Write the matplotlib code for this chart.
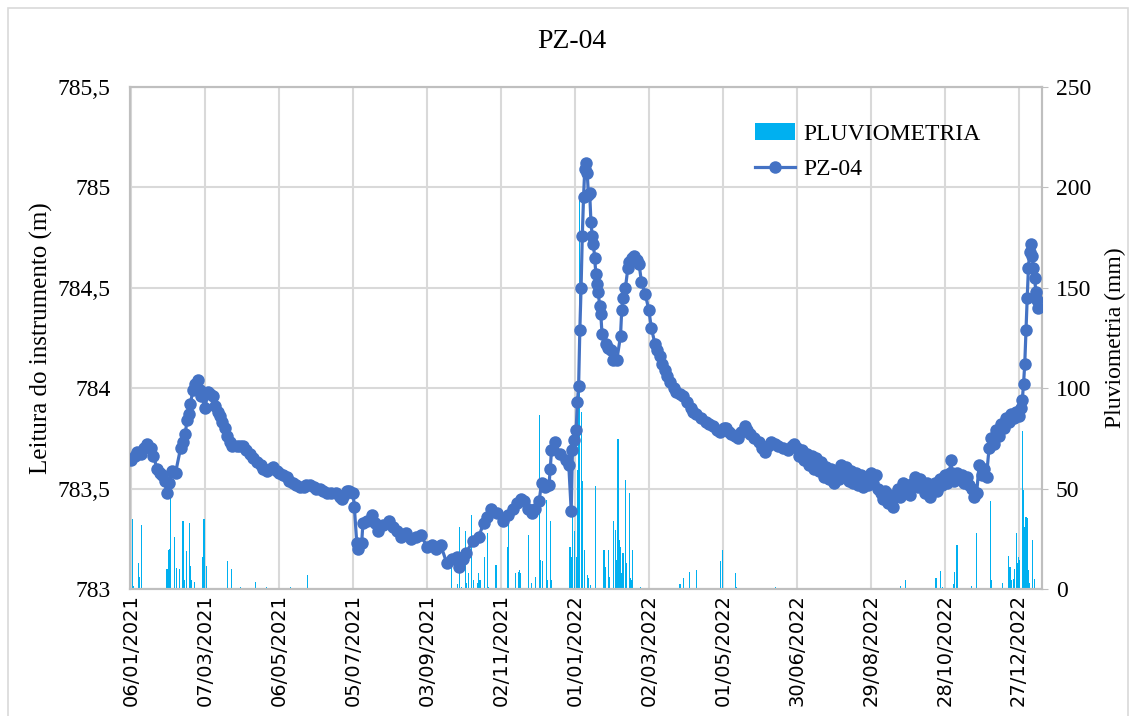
import numpy as np
import pandas as pd
import matplotlib
matplotlib.use("Agg")
import matplotlib.pyplot as plt
import matplotlib.dates as mdates
from matplotlib.patches import Rectangle

# day offsets counted from the first reading (06/01/2021)
start = pd.Timestamp("2021-01-06")

level_days = [0, 3, 5, 8, 10, 13, 16, 18, 21, 23, 25, 27, 29, 31, 33, 36, 40, 42, 44, 45, 47,
              48, 50, 52, 54, 56, 57, 60, 62, 64, 66, 68,
              70, 72, 74, 76, 78, 80, 82, 86, 88, 91, 93, 96, 99, 102, 105, 107, 110, 113, 115,
              118, 120, 123, 126, 128, 131, 134, 137, 140, 142, 145, 148, 150, 153, 156, 159,
              162, 166, 169, 171, 173, 175, 177, 180, 181, 183, 184, 187, 188, 191, 195, 198,
              200, 204, 209, 212, 216, 219, 223, 227, 231, 235, 240, 244, 247, 251,
              256, 260, 264, 266, 269, 272, 277, 282, 286, 289, 292, 297, 302, 306, 310, 313,
              316, 319, 322, 325, 328, 331, 333, 336,
              339, 340, 341, 344, 348, 353, 355, 357, 358, 359, 361, 362, 363, 364, 365, 366,
              367, 368, 369, 370, 371, 372, 373, 374, 375, 376, 377, 378, 379, 380, 381, 382,
              385, 387, 389, 391, 394, 397, 398, 399, 401, 403, 404, 406, 408, 410, 412, 414,
              417, 420, 422, 425, 427, 429, 431, 433, 435, 437, 440, 442, 445, 448, 451, 454,
              456, 458, 462, 466, 469, 472, 475, 478, 481, 483, 485, 487, 490, 492, 495, 498,
              500, 502, 505, 509, 512, 514, 517, 519, 522, 525, 529, 533, 536, 538,
              540, 542, 544, 546, 548, 550, 552, 554, 556, 558, 560, 562, 564, 566, 568, 570,
              572, 574, 576, 578, 580, 582, 584, 586, 588, 590, 592, 594, 596, 598, 600, 602,
              604, 606, 608, 610, 612, 614, 616, 618, 620, 622, 624, 626, 628, 630, 632, 634,
              636, 638, 640, 642, 644, 646, 648, 650, 652, 654, 656, 658, 660, 662, 664, 665,
              666, 668, 670, 672, 674, 676, 678, 680, 682, 684, 686, 688, 690, 692, 694, 696,
              698, 700, 702, 704, 706, 708, 710, 712, 714, 716, 718, 720, 722, 723, 724, 725,
              726, 727, 728, 729, 730, 731, 732, 733, 734, 735, 736]
level_m = [783.64, 783.66, 783.68, 783.67, 783.70, 783.72, 783.70, 783.66, 783.60, 783.58,
           783.57, 783.54, 783.48, 783.53, 783.59, 783.58, 783.70, 783.73, 783.77, 783.84,
           783.87, 783.92, 783.99, 784.02, 784.04, 783.99, 783.96, 783.90, 783.98, 783.97,
           783.96, 783.91,
           783.88, 783.86, 783.83, 783.80, 783.76, 783.73, 783.71, 783.71, 783.71, 783.71,
           783.69, 783.67, 783.65, 783.63, 783.62, 783.60, 783.59, 783.60, 783.61, 783.59,
           783.58, 783.57, 783.56, 783.54, 783.53, 783.52, 783.51, 783.51, 783.52, 783.52,
           783.51, 783.50, 783.50, 783.49, 783.48, 783.48, 783.48, 783.46, 783.45, 783.47,
           783.49, 783.49, 783.48, 783.41, 783.23, 783.20, 783.23, 783.33, 783.34, 783.37,
           783.33, 783.29, 783.32, 783.34, 783.31, 783.29, 783.26, 783.28, 783.25, 783.26,
           783.27, 783.21, 783.22, 783.20, 783.22,
           783.13, 783.15, 783.16, 783.11, 783.15, 783.18, 783.24, 783.26, 783.33, 783.36,
           783.40, 783.38, 783.34, 783.37, 783.40, 783.43, 783.45, 783.44, 783.40, 783.38,
           783.40, 783.44, 783.53, 783.51,
           783.52, 783.60, 783.69, 783.73, 783.67, 783.64, 783.62, 783.39, 783.69, 783.74,
           783.79, 783.93, 784.01, 784.29, 784.50, 784.76, 784.95, 785.09, 785.12, 785.07,
           784.96, 784.97, 784.83, 784.76, 784.72, 784.65, 784.57, 784.52, 784.48, 784.41,
           784.37, 784.27, 784.22, 784.20, 784.19, 784.14, 784.14, 784.26, 784.39, 784.45,
           784.50, 784.60, 784.63, 784.65, 784.66, 784.64, 784.62, 784.53, 784.47, 784.39,
           784.30, 784.22, 784.19, 784.16, 784.12, 784.09, 784.06, 784.03, 784.00, 783.98,
           783.97, 783.96, 783.93, 783.90, 783.88, 783.87, 783.85, 783.83, 783.82, 783.81,
           783.79, 783.78, 783.80, 783.80, 783.78, 783.77, 783.76, 783.75, 783.78, 783.81,
           783.79, 783.77, 783.75, 783.73, 783.70, 783.68, 783.71, 783.73, 783.72, 783.71,
           783.70, 783.69, 783.71, 783.72,
           783.70, 783.66, 783.69, 783.64, 783.67, 783.62, 783.66, 783.60, 783.65, 783.59,
           783.63, 783.56, 783.61, 783.55, 783.60, 783.53, 783.58, 783.55, 783.62, 783.57,
           783.61, 783.54, 783.59, 783.53, 783.58, 783.52, 783.57, 783.51, 783.56, 783.52,
           783.58, 783.53, 783.57, 783.50, 783.48, 783.45, 783.49, 783.43, 783.47, 783.41,
           783.46, 783.50, 783.46, 783.53, 783.49, 783.52, 783.47, 783.53, 783.56, 783.51,
           783.55, 783.52, 783.48, 783.53, 783.46, 783.50, 783.53, 783.49, 783.55, 783.52,
           783.57, 783.53, 783.58, 783.64, 783.58, 783.54, 783.58, 783.55, 783.57, 783.53,
           783.56, 783.52, 783.50, 783.46, 783.48, 783.62, 783.57, 783.60, 783.56, 783.70,
           783.75, 783.72, 783.79, 783.76, 783.82, 783.80, 783.85, 783.83, 783.87, 783.85,
           783.88, 783.86, 783.90, 783.94, 784.02, 784.12, 784.29, 784.45, 784.60, 784.68,
           784.72, 784.66, 784.60, 784.55, 784.48, 784.44, 784.40]

rain_days = [1, 2, 6, 7, 8, 29, 30, 31, 32, 35, 37, 39, 42, 43, 45, 47, 48, 49, 51, 58, 59, 61,
             78, 81, 89, 101, 110, 129, 135, 143,
             260, 265, 266, 268, 271, 272, 274, 276, 278, 281, 282, 283, 287, 289, 290, 296,
             305, 306, 312, 314, 315, 316, 322, 325, 328, 331, 332, 334, 337, 338, 340, 341,
             356, 357, 358, 360, 361, 362, 363, 364, 365, 366, 368, 370, 371, 373, 377,
             383, 384, 385, 387, 388, 391, 393, 394, 395, 396, 397, 398, 399, 401, 402, 404,
             405, 406, 407, 413, 433, 445, 446, 448, 453, 459, 478, 480, 490, 491, 523,
             624, 628, 653, 657, 658, 667, 668, 670, 682, 686, 697, 698, 707, 712, 713, 714,
             716, 717, 718, 719, 720, 721, 723, 724, 725, 726, 727, 728, 729, 731, 733]
rain_mm = [34.8, 1.5, 12.8, 6.0, 32.0, 10.0, 19.5, 20.0, 48.0, 26.0, 10.7, 9.8, 34.0, 4.5, 18.7,
           33.0, 11.5, 4.5, 3.3, 16.0, 35.0, 11.5, 14.0, 9.8, 1.2, 3.3, 1.2, 0.8, 0.7, 7.0,
           11.0, 2.3, 31.0, 1.0, 29.0, 3.0, 8.0, 37.0, 4.5, 3.0, 8.0, 4.5, 16.0, 28.0, 1.0, 12.0,
           21.0, 34.5, 8.0, 8.7, 9.5, 8.0, 27.0, 3.0, 6.0, 86.7, 14.5, 13.7, 44.5, 4.5, 33.7, 4.5,
           21.0, 16.0, 38.0, 28.7, 16.0, 59.5, 104.0, 196.0, 88.0, 53.7, 19.5, 7.0, 5.3, 2.0,
           51.5,
           19.5, 19.5, 11.0, 19.5, 6.0, 33.7, 29.5, 14.5, 74.5, 24.5, 21.0, 8.0, 18.0, 54.5,
           13.0, 48.0, 5.3, 4.5, 19.5, 1.0, 0.7, 2.5, 2.5, 5.3, 8.3, 9.5, 13.7, 19.5, 8.2, 0.8,
           1.2,
           1.5, 4.5, 5.7, 9.0, 1.0, 2.3, 8.7, 21.7, 1.5, 27.8, 43.7, 4.5, 2.8, 16.5, 11.0,
           4.5, 5.0, 10.0, 27.8, 13.0, 16.0, 14.5, 78.7, 49.5, 31.0, 36.0, 35.3, 9.5, 3.0, 24.5,
           5.0]

level_dates = start + pd.to_timedelta(level_days, unit="D")
rain_dates = start + pd.to_timedelta(rain_days, unit="D")
tick_dates = start + pd.to_timedelta(np.arange(0, 721, 60), unit="D")

plt.rcParams["font.family"] = ["Liberation Serif", "DejaVu Serif"]
grid_c = "#D9D9D9"

fig = plt.figure(figsize=(11.31, 7.16), dpi=100)
# chart area border
fig.add_artist(Rectangle((8 / 1131, -0.01), 1120 / 1131, 1 - 8 / 716 + 0.01,
                         transform=fig.transFigure, fill=False, ec=grid_c, lw=1.2))

ax = fig.add_axes([130 / 1131, 1 - 589 / 716, (1042 - 130) / 1131, (589 - 87) / 716])
bars = ax.bar(rain_dates, rain_mm, width=0.9, color="#00B0F0", label="PLUVIOMETRIA", zorder=2)
ax.set_ylim(0, 250)
ax.set_yticks(np.arange(0, 251, 50))
ax.set_xlim(start - pd.Timedelta(days=1), start + pd.Timedelta(days=739))
ax.set_xticks(tick_dates)
ax.xaxis.set_major_formatter(mdates.DateFormatter("%d/%m/%Y"))
ax.grid(True, color=grid_c, lw=1.5, zorder=0)
ax.set_axisbelow(True)

# line on the twin (drawn on top), with its scale shown on the left
ax2 = ax.twinx()
line, = ax2.plot(level_dates, level_m, color="#4472C4", lw=2.3, marker="o", ms=9,
                 mew=0, label="PZ-04", zorder=3)
ax2.set_ylim(783, 785.5)
ax2.set_yticks(np.arange(783, 785.51, 0.5))
ax2.set_yticklabels(["783", "783,5", "784", "784,5", "785", "785,5"])
ax2.yaxis.tick_left()
ax2.yaxis.set_label_position("left")
ax2.set_ylabel("Leitura do instrumento (m)", fontsize=18, labelpad=3)

ax.yaxis.tick_right()
ax.yaxis.set_label_position("right")
ax.set_ylabel("Pluviometria (mm)", fontsize=17, labelpad=10)

for a in (ax, ax2):
    for s in a.spines.values():
        s.set_color("#BFBFBF")
        s.set_linewidth(1.5)
    a.tick_params(axis="x", length=0)
ax2.tick_params(axis="y", labelsize=17, length=0, pad=14)
ax.tick_params(axis="y", labelsize=17, length=4, color="#BFBFBF", pad=6)
for lbl in ax.get_xticklabels():
    lbl.set_rotation(90)
    lbl.set_fontsize(14)
    lbl.set_family("DejaVu Sans")

ax2.legend([bars, line], ["PLUVIOMETRIA", "PZ-04"], loc="upper left",
           bbox_to_anchor=(734 / 1131, 1 - 102 / 716), bbox_transform=fig.transFigure,
           frameon=False, fontsize=17, handlelength=1.7, handletextpad=0.35, labelspacing=0.6)

fig.text(572 / 1131, 1 - 42 / 716, "PZ-04", ha="center", va="center", fontsize=20)

fig.savefig("out.png", dpi=100)
